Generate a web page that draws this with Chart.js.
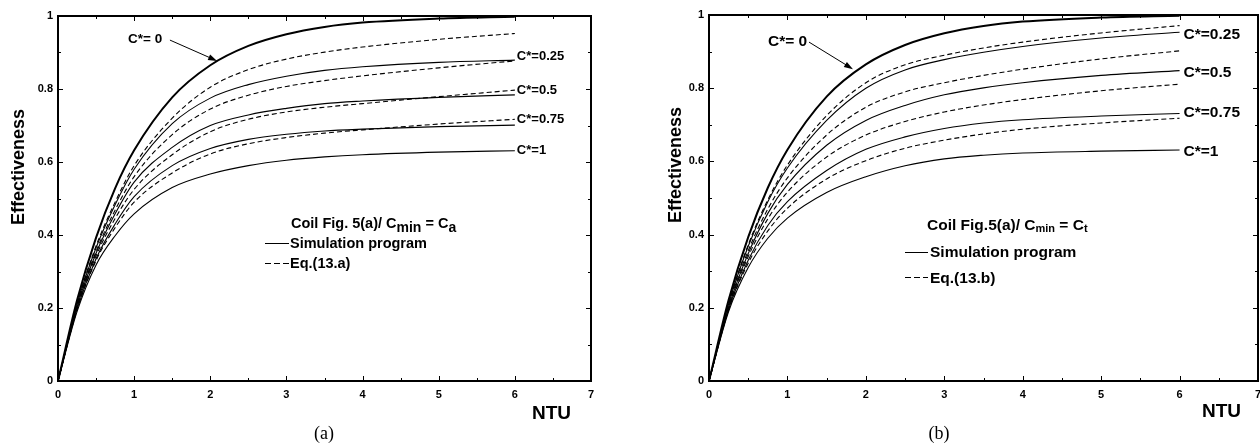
<!DOCTYPE html>
<html>
<head>
<meta charset="utf-8">
<script src="https://cdn.jsdelivr.net/npm/chart.js@4.4.1/dist/chart.umd.min.js"></script>
<style>
html, body { margin: 0; padding: 0; background: #fff; overflow: hidden; }
#wrap { position: relative; width: 1260px; height: 446px; }
canvas { position: absolute; top: 0; }
#chartA { left: 0; }
#chartB { left: 630px; }
</style>
</head>
<body>
<div id="wrap">
<canvas id="chartA" width="630" height="446"></canvas>
<canvas id="chartB" width="630" height="446"></canvas>
</div>
<script>
const ntu = [0, 0.25, 0.5, 0.75, 1, 1.5, 2, 2.5, 3, 3.5, 4, 5, 6];

const xTickLabels = ['0', '1', '2', '3', '4', '5', '6', '7'];
const yTickLabels = ['0', '0.2', '0.4', '0.6', '0.8', '1'];

// C* = 0 (same in both panels)
const zeroCurve = [0, 0.221, 0.393, 0.528, 0.632, 0.777, 0.865, 0.918, 0.950, 0.970, 0.982, 0.993, 0.998];

// panel (a): simulation (solid) and Eq.(13.a) (dashed)
const simA025 = [0, 0.210, 0.365, 0.483, 0.580, 0.705, 0.775, 0.812, 0.835, 0.851, 0.861, 0.873, 0.879];
const simA050 = [0, 0.203, 0.350, 0.458, 0.545, 0.640, 0.700, 0.729, 0.747, 0.760, 0.767, 0.777, 0.784];
const simA075 = [0, 0.197, 0.335, 0.430, 0.505, 0.590, 0.637, 0.662, 0.676, 0.685, 0.690, 0.697, 0.701];
const simA100 = [0, 0.190, 0.318, 0.398, 0.458, 0.530, 0.567, 0.590, 0.605, 0.614, 0.620, 0.627, 0.631];
const eqA025 = [0, 0.212, 0.370, 0.490, 0.590, 0.720, 0.805, 0.853, 0.882, 0.901, 0.915, 0.936, 0.952];
const eqA050 = [0, 0.205, 0.355, 0.468, 0.560, 0.675, 0.745, 0.783, 0.807, 0.823, 0.836, 0.858, 0.877];
const eqA075 = [0, 0.200, 0.343, 0.445, 0.525, 0.620, 0.683, 0.717, 0.737, 0.750, 0.760, 0.779, 0.797];
const eqA100 = [0, 0.195, 0.330, 0.420, 0.490, 0.570, 0.622, 0.650, 0.667, 0.679, 0.688, 0.704, 0.717];

// panel (b): simulation (solid) and Eq.(13.b) (dashed)
const simB025 = [0, 0.210, 0.368, 0.490, 0.582, 0.712, 0.800, 0.850, 0.878, 0.898, 0.914, 0.937, 0.953];
const simB050 = [0, 0.202, 0.348, 0.458, 0.537, 0.644, 0.712, 0.753, 0.782, 0.801, 0.815, 0.835, 0.848];
const simB075 = [0, 0.196, 0.330, 0.425, 0.490, 0.575, 0.633, 0.667, 0.690, 0.705, 0.714, 0.724, 0.731];
const simB100 = [0, 0.190, 0.310, 0.390, 0.445, 0.515, 0.558, 0.588, 0.607, 0.617, 0.623, 0.628, 0.631];
const eqB025 = [0, 0.212, 0.372, 0.495, 0.590, 0.725, 0.815, 0.864, 0.890, 0.910, 0.926, 0.951, 0.971];
const eqB050 = [0, 0.205, 0.356, 0.470, 0.555, 0.672, 0.748, 0.790, 0.815, 0.835, 0.852, 0.880, 0.902];
const eqB075 = [0, 0.200, 0.340, 0.443, 0.516, 0.612, 0.672, 0.709, 0.735, 0.754, 0.769, 0.793, 0.811];
const eqB100 = [0, 0.194, 0.322, 0.410, 0.472, 0.552, 0.602, 0.636, 0.658, 0.675, 0.688, 0.705, 0.718];

const FONT = '"Liberation Sans", Arial, Helvetica, sans-serif';
const SERIF = '"Liberation Serif", "Times New Roman", serif';

// frame, inward ticks and all the free text
const decor = {
  id: 'decor',
  afterDraw(chart, args, o) {
    const ctx = chart.ctx;
    const a = chart.chartArea;
    const sx = chart.scales.x;
    const sy = chart.scales.y;
    ctx.save();
    ctx.strokeStyle = '#000';
    ctx.fillStyle = '#000';
    ctx.setLineDash([]);
    ctx.lineWidth = 2;
    ctx.strokeRect(a.left, a.top, a.right - a.left, a.bottom - a.top);

    ctx.lineWidth = 1;
    ctx.beginPath();
    for (let i = 0; i <= 14; i++) {
      const x = Math.round(sx.getPixelForValue(i / 2)) + 0.5;
      const len = i % 2 ? 3 : 5;
      ctx.moveTo(x, a.bottom); ctx.lineTo(x, a.bottom - len);
      ctx.moveTo(x, a.top); ctx.lineTo(x, a.top + len);
    }
    for (let i = 0; i <= 10; i++) {
      const y = Math.round(sy.getPixelForValue(i / 10)) + 0.5;
      const len = i % 2 ? 3 : 5;
      ctx.moveTo(a.left, y); ctx.lineTo(a.left + len, y);
      ctx.moveTo(a.right, y); ctx.lineTo(a.right - len, y);
    }
    ctx.stroke();

    // y title
    ctx.save();
    ctx.translate(o.yTitle[0], o.yTitle[1]);
    ctx.rotate(-Math.PI / 2);
    ctx.font = 'bold 18px ' + FONT;
    ctx.textAlign = 'center';
    ctx.textBaseline = 'middle';
    ctx.fillText('Effectiveness', 0, 0);
    ctx.restore();

    // NTU
    ctx.font = 'bold 19px ' + FONT;
    ctx.textAlign = 'left';
    ctx.textBaseline = 'alphabetic';
    ctx.fillText('NTU', o.ntu[0], o.ntu[1]);

    // caption
    ctx.font = '18px ' + SERIF;
    ctx.textAlign = 'center';
    ctx.textBaseline = 'middle';
    ctx.fillText(o.caption, o.captionPos[0], o.captionPos[1]);

    // C*= 0 with arrow
    const lbl = o.zeroLabel;
    ctx.font = 'bold ' + lbl.size + 'px ' + FONT;
    ctx.textAlign = 'left';
    ctx.textBaseline = 'alphabetic';
    ctx.fillText('C*= 0', sx.getPixelForValue(lbl.at[0]), sy.getPixelForValue(lbl.at[1]));
    const x0 = sx.getPixelForValue(lbl.from[0]), y0 = sy.getPixelForValue(lbl.from[1]);
    const x1 = sx.getPixelForValue(lbl.to[0]), y1 = sy.getPixelForValue(lbl.to[1]);
    const ang = Math.atan2(y1 - y0, x1 - x0);
    ctx.beginPath();
    ctx.moveTo(x0, y0);
    ctx.lineTo(x1 - 7 * Math.cos(ang), y1 - 7 * Math.sin(ang));
    ctx.stroke();
    ctx.beginPath();
    ctx.moveTo(x1, y1);
    ctx.lineTo(x1 - 9 * Math.cos(ang) + 3 * Math.sin(ang), y1 - 9 * Math.sin(ang) - 3 * Math.cos(ang));
    ctx.lineTo(x1 - 9 * Math.cos(ang) - 3 * Math.sin(ang), y1 - 9 * Math.sin(ang) + 3 * Math.cos(ang));
    ctx.closePath();
    ctx.fill();

    // curve end labels
    ctx.font = 'bold ' + o.endSize + 'px ' + FONT;
    ctx.textBaseline = 'middle';
    const ex = sx.getPixelForValue(6) + o.endGap;
    o.endLabels.forEach(e => ctx.fillText(e[0], ex, sy.getPixelForValue(e[1])));

    // legend block
    const L = o.legend;
    ctx.textBaseline = 'alphabetic';
    let tx = L.title[0];
    L.parts.forEach(p => {
      ctx.font = 'bold ' + (p[1] ? L.subSize : L.size) + 'px ' + FONT;
      ctx.fillText(p[0], tx, L.title[1] + (p[1] ? L.subDrop : 0));
      tx += ctx.measureText(p[0]).width;
    });
    ctx.font = 'bold ' + L.size + 'px ' + FONT;
    ctx.fillText('Simulation program', L.sim[0], L.sim[1]);
    ctx.fillText(L.eqText, L.eq[0], L.eq[1]);
    ctx.lineWidth = 1;
    ctx.beginPath();
    ctx.moveTo(L.sample[0], L.sampleY[0] + 0.5);
    ctx.lineTo(L.sample[1], L.sampleY[0] + 0.5);
    ctx.stroke();
    ctx.setLineDash([6, 3]);
    ctx.beginPath();
    ctx.moveTo(L.sample[0], L.sampleY[1] + 0.5);
    ctx.lineTo(L.sample[1], L.sampleY[1] + 0.5);
    ctx.stroke();
    ctx.restore();
  }
};

function series(values, dashed, width) {
  return {
    data: ntu.map((x, i) => ({ x, y: values[i] })),
    borderColor: '#000',
    borderWidth: width,
    borderDash: dashed ? [5, 3] : [],
    pointRadius: 0,
    cubicInterpolationMode: 'monotone',
    fill: false
  };
}

function makeChart(id, sims, eqs, geom, deco) {
  const datasets = [];
  sims.forEach(s => datasets.push(series(s, false, 1.1)));
  eqs.forEach(s => datasets.push(series(s, true, 1.1)));
  datasets.push(series(zeroCurve, false, 2));

  return new Chart(document.getElementById(id), {
    type: 'line',
    data: { datasets },
    options: {
      responsive: false,
      animation: false,
      events: [],
      layout: { padding: { left: 0, right: geom.padRight, top: geom.padTop, bottom: 0 } },
      plugins: { legend: { display: false }, tooltip: { enabled: false }, decor: deco },
      scales: {
        x: {
          type: 'linear', min: 0, max: 7,
          grid: { display: false, drawTicks: false },
          border: { display: false },
          ticks: {
            stepSize: 1, padding: 7, color: '#000', maxRotation: 0,
            font: { family: FONT, size: 11, weight: 'bold' },
            callback: (v, i) => xTickLabels[i]
          },
          afterFit: s => { s.height = 65; s.paddingLeft = 0; s.paddingRight = 0; }
        },
        y: {
          type: 'linear', min: 0, max: 1,
          grid: { display: false, drawTicks: false },
          border: { display: false },
          ticks: {
            stepSize: 0.2, padding: 5, color: '#000',
            font: { family: FONT, size: 11, weight: 'bold' },
            callback: (v, i) => yTickLabels[i]
          },
          afterFit: s => { s.width = geom.yWidth; s.paddingTop = 0; s.paddingBottom = 0; }
        }
      }
    },
    plugins: [decor]
  });
}

makeChart('chartA',
  [simA025, simA050, simA075, simA100],
  [eqA025, eqA050, eqA075, eqA100],
  { yWidth: 58, padRight: 39, padTop: 16 },
  {
    yTitle: [19, 167],
    ntu: [532, 419],
    caption: '(a)', captionPos: [324, 434],
    zeroLabel: { size: 13.5, at: [0.92, 0.926], from: [1.47, 0.934], to: [2.09, 0.877] },
    endSize: 13, endGap: 2,
    endLabels: [['C*=0.25', 0.888], ['C*=0.5', 0.797], ['C*=0.75', 0.717], ['C*=1', 0.633]],
    legend: {
      size: 14.5, subSize: 14, subDrop: 4,
      title: [291, 228],
      parts: [['Coil Fig. 5(a)/ C', false], ['min', true], [' = C', false], ['a', true]],
      sim: [290, 248], eq: [290, 268], eqText: 'Eq.(13.a)',
      sample: [265, 289], sampleY: [243, 263]
    }
  });

makeChart('chartB',
  [simB025, simB050, simB075, simB100],
  [eqB025, eqB050, eqB075, eqB100],
  { yWidth: 79, padRight: 2, padTop: 15 },
  {
    yTitle: [46, 165],
    ntu: [572, 417],
    caption: '(b)', captionPos: [309, 434],
    zeroLabel: { size: 15.5, at: [0.752, 0.915], from: [1.275, 0.926], to: [1.836, 0.852] },
    endSize: 15.5, endGap: 4,
    endLabels: [['C*=0.25', 0.945], ['C*=0.5', 0.842], ['C*=0.75', 0.732], ['C*=1', 0.626]],
    legend: {
      size: 15.5, subSize: 11, subDrop: 2,
      title: [297, 230],
      parts: [['Coil Fig.5(a)/ C', false], ['min', true], [' = C', false], ['t', true]],
      sim: [300, 257], eq: [300, 283], eqText: 'Eq.(13.b)',
      sample: [275, 298], sampleY: [252, 277]
    }
  });
</script>
</body>
</html>
